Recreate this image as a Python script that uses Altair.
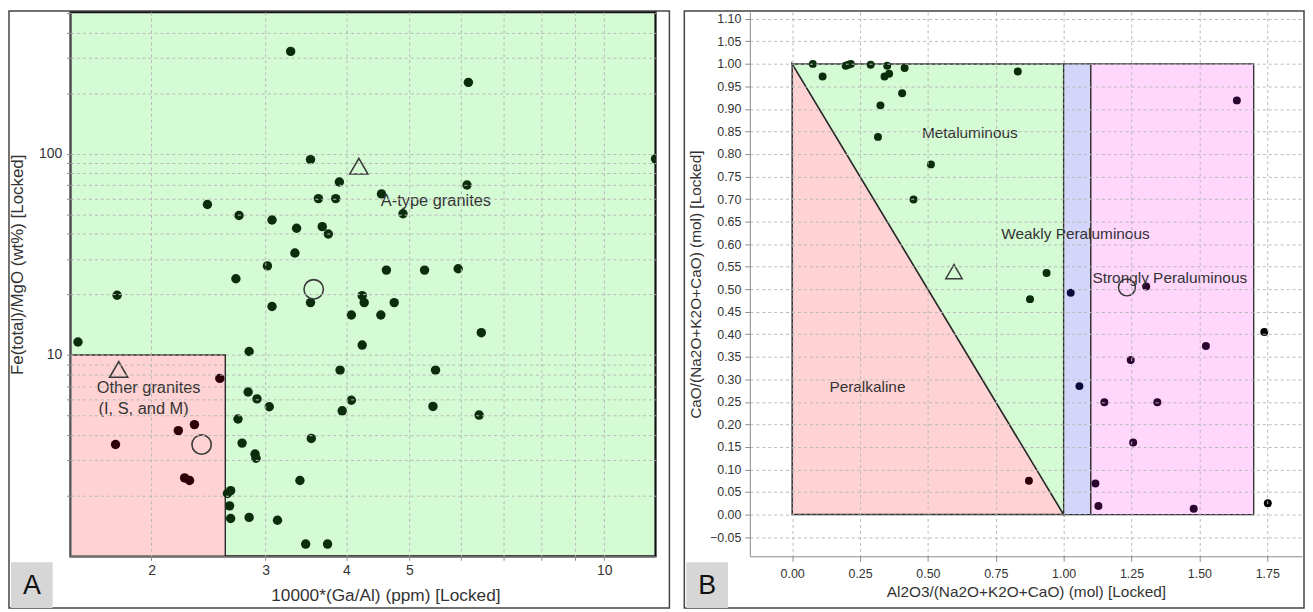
import altair as alt
import pandas as pd

# ---------------- Panel A data ----------------
A_X = [3.28, 3.52, 3.62, 2.44, 2.73, 3.07, 3.35, 3.67, 3.75, 3.33, 3.02, 2.70, 1.77, 3.07, 3.52,
       6.17, 3.90, 3.85, 6.14, 4.53, 4.89, 4.61, 5.28, 5.95, 4.23, 4.26, 4.74, 12.0, 6.46, 1.54,
       2.83, 2.55, 2.82, 2.91, 3.04, 2.72, 2.20, 2.33, 1.76, 2.76, 3.53, 2.89, 2.90, 2.25, 2.29,
       3.39, 2.62, 2.65, 2.64, 2.65, 2.83, 3.13, 3.46, 3.74, 4.07, 4.52, 4.23, 3.91, 5.49, 4.07,
       3.94, 5.44, 6.41]
A_Y = [322, 93.4, 59.8, 55.9, 49.3, 46.8, 42.6, 43.4, 39.9, 32.1, 27.7, 23.9, 19.8, 17.4, 18.2,
       226, 72.3, 59.8, 69.9, 63.1, 50.3, 26.4, 26.4, 26.8, 19.7, 18.2, 18.2, 94.2, 12.9, 11.6,
       10.4, 7.65, 6.55, 6.05, 5.53, 4.81, 4.21, 4.51, 3.59, 3.65, 3.85, 3.22, 3.07, 2.45, 2.38,
       2.38, 2.05, 2.12, 1.78, 1.54, 1.56, 1.51, 1.15, 1.15, 15.8, 15.8, 11.2, 8.41, 8.41, 5.96,
       5.28, 5.55, 5.03]
A_GROUP = ["A"] * 31 + ["O"] + ["A"] * 4 + ["O", "O", "O"] + ["A"] * 4 + ["O", "O"] + ["A"] * 18
A_CIRCLE_X = [3.56, 2.39]
A_CIRCLE_Y = [21.2, 3.59]
A_TRI_X = [4.18, 1.78]
A_TRI_Y = [86.7, 8.47]
A_XTICKS = [2, 3, 4, 5, 6, 7, 8, 9, 10]
A_XLABELS = [2, 3, 4, 5, 10]
A_YTICKS = [2, 3, 4, 5, 6, 7, 8, 9, 10, 20, 30, 40, 50, 60, 70, 80, 90, 100, 200, 300, 400, 500]
A_YLABELS = [10, 100]
A_FIELD_X = [1.5]
A_FIELD_X2 = [12.0]
A_FIELD_Y = [1.0]
A_FIELD_Y2 = [505.0]
A_OTHER_X = [1.5]
A_OTHER_X2 = [2.6]
A_OTHER_Y = [1.0]
A_OTHER_Y2 = [10.0]
A_LABEL1 = ["A-type granites"]
A_LABEL1_X = [4.52]
A_LABEL1_Y = [58.3]
A_LABEL2 = ["Other granites", "(I, S, and M)"]
A_LABEL2_X = [1.98, 1.945]
A_LABEL2_Y = [6.86, 5.36]

# ---------------- Panel B data ----------------
B_X = [0.076, 0.112, 0.197, 0.207, 0.216, 0.289, 0.350, 0.340, 0.357, 0.414, 0.405, 0.325, 0.316,
       0.511, 0.447, 0.831, 0.937, 0.876, 1.026, 1.058, 1.638, 1.304, 1.524, 1.247, 1.150, 1.345,
       1.256, 1.117, 1.128, 1.479, 0.872, 1.739, 1.752]
B_Y = [1.000, 0.972, 0.996, 0.998, 1.000, 0.998, 0.996, 0.972, 0.978, 0.991, 0.935, 0.908, 0.838,
       0.777, 0.699, 0.983, 0.536, 0.478, 0.492, 0.285, 0.919, 0.506, 0.374, 0.343, 0.249, 0.249,
       0.160, 0.069, 0.019, 0.013, 0.075, 0.405, 0.025]
B_GROUP = ["M"] * 18 + ["W", "W"] + ["S"] * 10 + ["P"] + ["X", "X"]
B_CIRCLE_X = [1.233]
B_CIRCLE_Y = [0.504]
B_TRI_X = [0.596]
B_TRI_Y = [0.539]
B_XTICKS = [0.0, 0.25, 0.5, 0.75, 1.0, 1.25, 1.5, 1.75]
B_YTICKS = [-0.05, 0.0, 0.05, 0.10, 0.15, 0.20, 0.25, 0.30, 0.35, 0.40, 0.45, 0.50, 0.55, 0.60,
            0.65, 0.70, 0.75, 0.80, 0.85, 0.90, 0.95, 1.00, 1.05, 1.10]
B_TRI_EDGE_X = [0.0, 1.0]
B_PERALK_LO = [0.0, 0.0]
B_PERALK_HI = [1.0, 0.0]
B_METAL_LO = [1.0, 0.0]
B_METAL_HI = [1.0, 1.0]
B_WEAK_X = [1.0]
B_WEAK_X2 = [1.1]
B_STRONG_X = [1.1]
B_STRONG_X2 = [1.7]
B_RECT_Y = [0.0]
B_RECT_Y2 = [1.0]
B_LABELS = ["Metaluminous", "Weakly Peraluminous", "Strongly Peraluminous", "Peralkaline"]
B_LABEL_X = [0.478, 0.770, 1.106, 0.137]
B_LABEL_Y = [0.846, 0.623, 0.524, 0.284]

FONT = "Liberation Sans"
TXT = "#333333"
GRID = "#b8b8b8"
STROKE = "#2a2a2a"

# ---------------- Panel A chart ----------------
WA, HA = 589, 548


def axis_common(**kw):
    return alt.Axis(grid=True, gridColor=GRID, gridDash=[3, 3], gridWidth=1,
                    domainColor="#8a8a8a", tickColor="#8a8a8a", labelColor=TXT,
                    titleColor=TXT, titleFontWeight="normal", labelFont=FONT,
                    titleFont=FONT, zindex=1, **kw)


x_lab = ",".join(str(v) for v in A_XLABELS)
y_lab = ",".join(str(v) for v in A_YLABELS)
axA_x = axis_common(values=A_XTICKS, title="10000*(Ga/Al) (ppm) [Locked]",
                    labelExpr=f"indexof([{x_lab}], datum.value) >= 0 ? format(datum.value, 'd') : ''",
                    labelFontSize=14, titleFontSize=17.4, tickSize=4, labelPadding=3,
                    titlePadding=10, titleX=317)
axA_y = axis_common(values=A_YTICKS, title="Fe(total)/MgO (wt%) [Locked]",
                    labelExpr=f"indexof([{y_lab}], datum.value) >= 0 ? format(datum.value, 'd') : ''",
                    labelFontSize=14, titleFontSize=17, tickSize=4, labelPadding=5, labelFlush=4,
                    titlePadding=12, titleY=254)
sxA = alt.Scale(type="log", domain=[1.5, 12], nice=False)
syA = alt.Scale(type="log", domain=[1, 505], nice=False)
XA = alt.X("x:Q", scale=sxA, axis=axA_x)
YA = alt.Y("y:Q", scale=syA, axis=axA_y)

field_a = alt.Chart(pd.DataFrame({"x": A_FIELD_X, "x2": A_FIELD_X2, "y": A_FIELD_Y, "y2": A_FIELD_Y2})).mark_rect(
    fill="#d5fbd5", stroke="#111111", strokeWidth=2.2).encode(x=XA, x2="x2:Q", y=YA, y2="y2:Q")
field_o = alt.Chart(pd.DataFrame({"x": A_OTHER_X, "x2": A_OTHER_X2, "y": A_OTHER_Y, "y2": A_OTHER_Y2})).mark_rect(
    fill="#ffd3d3", stroke=STROKE, strokeWidth=1.4).encode(x=XA, x2="x2:Q", y=YA, y2="y2:Q")
pts_a = alt.Chart(pd.DataFrame({"x": A_X, "y": A_Y, "g": A_GROUP})).mark_point(
    filled=True, size=90, opacity=1, clip=True).encode(
    x=XA, y=YA,
    color=alt.Color("g:N", scale=alt.Scale(domain=["A", "O"], range=["#0b2d0b", "#2d0008"]), legend=None))
circ_a = alt.Chart(pd.DataFrame({"x": A_CIRCLE_X, "y": A_CIRCLE_Y})).mark_point(
    shape="circle", filled=False, size=380, color="#3a3a3a", strokeWidth=1.6, opacity=1).encode(x=XA, y=YA)
tri_a = alt.Chart(pd.DataFrame({"x": A_TRI_X, "y": A_TRI_Y})).mark_point(
    shape="triangle-up", filled=False, size=330, color="#3a3a3a", strokeWidth=1.6, opacity=1).encode(x=XA, y=YA)
lab_a1 = alt.Chart(pd.DataFrame({"x": A_LABEL1_X, "y": A_LABEL1_Y, "t": A_LABEL1})).mark_text(
    align="left", baseline="middle", fontSize=16.5, font=FONT, color=TXT).encode(x=XA, y=YA, text="t:N")
lab_a2 = alt.Chart(pd.DataFrame({"x": A_LABEL2_X, "y": A_LABEL2_Y, "t": A_LABEL2})).mark_text(
    align="center", baseline="middle", fontSize=16.5, font=FONT, color=TXT).encode(x=XA, y=YA, text="t:N")
frame_a = alt.Chart(pd.DataFrame({"k": [0]})).mark_rect(fillOpacity=0, stroke="#444444", strokeWidth=1.5).encode(
    x=alt.value(-62), x2=alt.value(WA + 14), y=alt.value(-1), y2=alt.value(HA + 52))
box_a = alt.Chart(pd.DataFrame({"k": [0]})).mark_rect(fill="#d6d6d6").encode(
    x=alt.value(-60), x2=alt.value(-18), y=alt.value(HA + 6), y2=alt.value(HA + 52))
let_a = alt.Chart(pd.DataFrame({"k": [0]})).mark_text(text="A", fontSize=27, font=FONT, color="#111111",
                                                     baseline="middle", align="center").encode(
    x=alt.value(-39), y=alt.value(HA + 30))

panel_a = alt.layer(field_a, field_o, pts_a, circ_a, tri_a, lab_a1, lab_a2, frame_a, box_a, let_a).properties(
    width=WA, height=HA)

# ---------------- Panel B chart ----------------
WB, HB = 556, 548
axB_x = axis_common(values=B_XTICKS, format=".2f", title="Al2O3/(Na2O+K2O+CaO) (mol) [Locked]",
                    labelFontSize=12.5, titleFontSize=15.5, tickSize=5, labelPadding=6, titlePadding=5)
axB_y = axis_common(values=B_YTICKS, format=".2f", title="CaO/(Na2O+K2O+CaO) (mol) [Locked]",
                    labelFontSize=12.5, titleFontSize=15.5, tickSize=5, labelPadding=4, titlePadding=6)
sxB = alt.Scale(domain=[-0.156, 1.878], nice=False, zero=False)
syB = alt.Scale(domain=[-0.0926, 1.115], nice=False, zero=False)
XB = alt.X("x:Q", scale=sxB, axis=axB_x)
YB = alt.Y("y:Q", scale=syB, axis=axB_y)

peralk = alt.Chart(pd.DataFrame({"x": B_TRI_EDGE_X, "y": B_PERALK_LO, "y2": B_PERALK_HI})).mark_area(
    fill="#ffd3d3", stroke=STROKE, strokeWidth=1.5, opacity=1).encode(x=XB, y=YB, y2="y2:Q")
metal = alt.Chart(pd.DataFrame({"x": B_TRI_EDGE_X, "y": B_METAL_LO, "y2": B_METAL_HI})).mark_area(
    fill="#d5fbd5", stroke=STROKE, strokeWidth=1.5, opacity=1).encode(x=XB, y=YB, y2="y2:Q")
weak = alt.Chart(pd.DataFrame({"x": B_WEAK_X, "x2": B_WEAK_X2, "y": B_RECT_Y, "y2": B_RECT_Y2})).mark_rect(
    fill="#d3d6fa", stroke=STROKE, strokeWidth=1.3).encode(x=XB, x2="x2:Q", y=YB, y2="y2:Q")
strong = alt.Chart(pd.DataFrame({"x": B_STRONG_X, "x2": B_STRONG_X2, "y": B_RECT_Y, "y2": B_RECT_Y2})).mark_rect(
    fill="#ffd6fc", stroke=STROKE, strokeWidth=1.3).encode(x=XB, x2="x2:Q", y=YB, y2="y2:Q")
pts_b = alt.Chart(pd.DataFrame({"x": B_X, "y": B_Y, "g": B_GROUP})).mark_point(
    filled=True, size=64, opacity=1).encode(
    x=XB, y=YB,
    color=alt.Color("g:N", scale=alt.Scale(domain=["M", "W", "S", "P", "X"],
                                           range=["#0b2d0b", "#0a0a3c", "#2a0530", "#2d0008", "#000000"]),
                    legend=None))
circ_b = alt.Chart(pd.DataFrame({"x": B_CIRCLE_X, "y": B_CIRCLE_Y})).mark_point(
    shape="circle", filled=False, size=290, color="#3a3a3a", strokeWidth=1.5, opacity=1).encode(x=XB, y=YB)
tri_b = alt.Chart(pd.DataFrame({"x": B_TRI_X, "y": B_TRI_Y})).mark_point(
    shape="triangle-up", filled=False, size=270, color="#3a3a3a", strokeWidth=1.5, opacity=1).encode(x=XB, y=YB)
lab_b = alt.Chart(pd.DataFrame({"x": B_LABEL_X, "y": B_LABEL_Y, "t": B_LABELS})).mark_text(
    align="left", baseline="middle", fontSize=15.5, font=FONT, color=TXT).encode(x=XB, y=YB, text="t:N")
frame_b = alt.Chart(pd.DataFrame({"k": [0]})).mark_rect(fillOpacity=0, stroke="#444444", strokeWidth=1.5).encode(
    x=alt.value(-66), x2=alt.value(WB + 2), y=alt.value(-1), y2=alt.value(HB + 52))
box_b = alt.Chart(pd.DataFrame({"k": [0]})).mark_rect(fill="#d6d6d6").encode(
    x=alt.value(-64), x2=alt.value(-22), y=alt.value(HB + 6), y2=alt.value(HB + 52))
let_b = alt.Chart(pd.DataFrame({"k": [0]})).mark_text(text="B", fontSize=27, font=FONT, color="#111111",
                                                     baseline="middle", align="center").encode(
    x=alt.value(-43), y=alt.value(HB + 30))

panel_b = alt.layer(peralk, metal, weak, strong, pts_b, circ_b, tri_b, lab_b, frame_b, box_b, let_b).properties(
    width=WB, height=HB)

chart = alt.hconcat(panel_a, panel_b, spacing=13).resolve_scale(color="independent").properties(
    padding=0).configure(font=FONT).configure_view(strokeOpacity=0)

chart.save("out.html", embed_options={"renderer": "svg", "actions": False})
